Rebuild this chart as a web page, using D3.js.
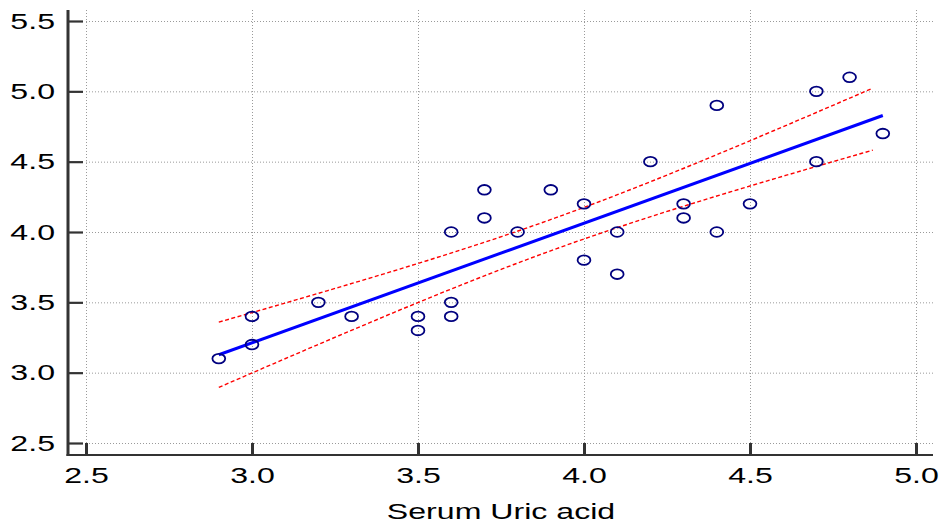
<!DOCTYPE html>
<html>
<head>
<meta charset="utf-8">
<script src="https://cdn.jsdelivr.net/npm/d3@7"></script>
<style>
  html, body { margin: 0; padding: 0; background: #fff; }
  svg { display: block; }
  text { font-family: "Liberation Sans", Arial, sans-serif; fill: #000; }
</style>
</head>
<body>
<svg id="chart" width="943" height="527"></svg>
<script>
// Serum uric acid (x) against the paired measurement (y)
const uricAcid = [2.9, 3.0, 3.0, 3.2, 3.3, 3.5, 3.5, 3.6, 3.6, 3.6, 3.7, 3.7, 3.8, 3.9,
                  4.0, 4.0, 4.1, 4.1, 4.2, 4.3, 4.3, 4.4, 4.4, 4.5, 4.7, 4.7, 4.8, 4.9];
const response = [3.1, 3.4, 3.2, 3.5, 3.4, 3.4, 3.3, 4.0, 3.5, 3.4, 4.3, 4.1, 4.0, 4.3,
                  4.2, 3.8, 4.0, 3.7, 4.5, 4.2, 4.1, 4.9, 4.0, 4.2, 5.0, 4.5, 5.1, 4.7];
const xTicks = [2.5, 3.0, 3.5, 4.0, 4.5, 5.0];
const yTicks = [2.5, 3.0, 3.5, 4.0, 4.5, 5.0, 5.5];
const xTitle = "Serum Uric acid";
const bandEnd = 4.87;      // last x at which the confidence band is drawn
const tCrit = 2.056;       // t(0.975, df = 26)

const svg = d3.select("#chart");
const x = d3.scaleLinear().domain([2.5, 5.0]).range([86, 916]);
const y = d3.scaleLinear().domain([2.5, 5.5]).range([443, 21]);
const axisX = 68, axisY = 455;
const stretch = 1.46;      // horizontal stretch of all lettering

// grid
const grid = svg.append("g").attr("stroke", "#9a9a9a").attr("stroke-width", 1)
  .attr("stroke-dasharray", "1,2");
grid.selectAll(".hg").data(yTicks).join("line")
  .attr("x1", x(2.5)).attr("x2", x(5.0) + 17)
  .attr("y1", d => y(d) + 0.5).attr("y2", d => y(d) + 0.5);
grid.selectAll(".vg").data(xTicks).join("line")
  .attr("x1", d => x(d) + 0.5).attr("x2", d => x(d) + 0.5)
  .attr("y1", y(5.5) - 11).attr("y2", y(2.5));

// axes
const gx = svg.append("g").attr("transform", `translate(0,${axisY})`)
  .call(d3.axisBottom(x).tickValues(xTicks).tickFormat(d3.format(".1f"))
        .tickSizeInner(-12).tickSizeOuter(0).tickPadding(12));
gx.select(".domain").remove();
gx.selectAll(".tick line").attr("stroke", "#333").attr("stroke-width", 3);
gx.selectAll(".tick text").attr("font-size", 22).attr("fill", "#000")
  .attr("transform", `scale(${stretch},1)`);
svg.append("line").attr("x1", axisX - 1.5).attr("x2", x(5.0) + 17)
  .attr("y1", axisY).attr("y2", axisY).attr("stroke", "#333").attr("stroke-width", 2.2);

const gy = svg.append("g").attr("transform", `translate(${axisX},0)`)
  .call(d3.axisLeft(y).tickValues(yTicks).tickFormat(d3.format(".1f"))
        .tickSizeInner(-15).tickSizeOuter(0).tickPadding(13 / stretch));
gy.select(".domain").remove();
gy.selectAll(".tick line").attr("stroke", "#333").attr("stroke-width", 2.2);
gy.selectAll(".tick text").attr("font-size", 22).attr("fill", "#000")
  .attr("transform", `scale(${stretch},1)`);
svg.append("line").attr("x1", axisX).attr("x2", axisX)
  .attr("y1", y(5.5) - 11).attr("y2", axisY + 1).attr("stroke", "#333").attr("stroke-width", 3);

svg.append("text")
  .attr("transform", `translate(${(x(2.5) + x(5.0)) / 2},519) scale(${stretch},1)`)
  .attr("text-anchor", "middle").attr("font-size", 22).text(xTitle);

// least-squares fit and 95% confidence band of the mean
const n = uricAcid.length;
const mx = d3.mean(uricAcid), my = d3.mean(response);
const sxx = d3.sum(uricAcid, v => (v - mx) ** 2);
const sxy = d3.sum(uricAcid, (v, i) => (v - mx) * (response[i] - my));
const slope = sxy / sxx, intercept = my - slope * mx;
const sse = d3.sum(uricAcid, (v, i) => (response[i] - (intercept + slope * v)) ** 2);
const s = Math.sqrt(sse / (n - 2));
const fit = v => intercept + slope * v;
const half = v => tCrit * s * Math.sqrt(1 / n + (v - mx) ** 2 / sxx);

const xMin = d3.min(uricAcid), xMax = d3.max(uricAcid);
const bandX = d3.range(xMin, bandEnd + 1e-9, (bandEnd - xMin) / 60);
const line = d3.line().x(d => x(d[0])).y(d => y(d[1]));

svg.append("path").datum(bandX.map(v => [v, fit(v) + half(v)]))
  .attr("d", line).attr("fill", "none").attr("stroke", "#ff0000")
  .attr("stroke-width", 1.4).attr("stroke-dasharray", "4,2.5");
svg.append("path").datum(bandX.map(v => [v, fit(v) - half(v)]))
  .attr("d", line).attr("fill", "none").attr("stroke", "#ff0000")
  .attr("stroke-width", 1.4).attr("stroke-dasharray", "4,2.5");
svg.append("path").datum([[xMin, fit(xMin)], [xMax, fit(xMax)]])
  .attr("d", line).attr("fill", "none").attr("stroke", "#0000ff")
  .attr("stroke-width", 3);

// observations
svg.append("g").selectAll("ellipse").data(uricAcid).join("ellipse")
  .attr("cx", d => x(d)).attr("cy", (d, i) => y(response[i]))
  .attr("rx", 6.4).attr("ry", 4.8)
  .attr("fill", "none").attr("stroke", "#00007f").attr("stroke-width", 1.8);
</script>
</body>
</html>
